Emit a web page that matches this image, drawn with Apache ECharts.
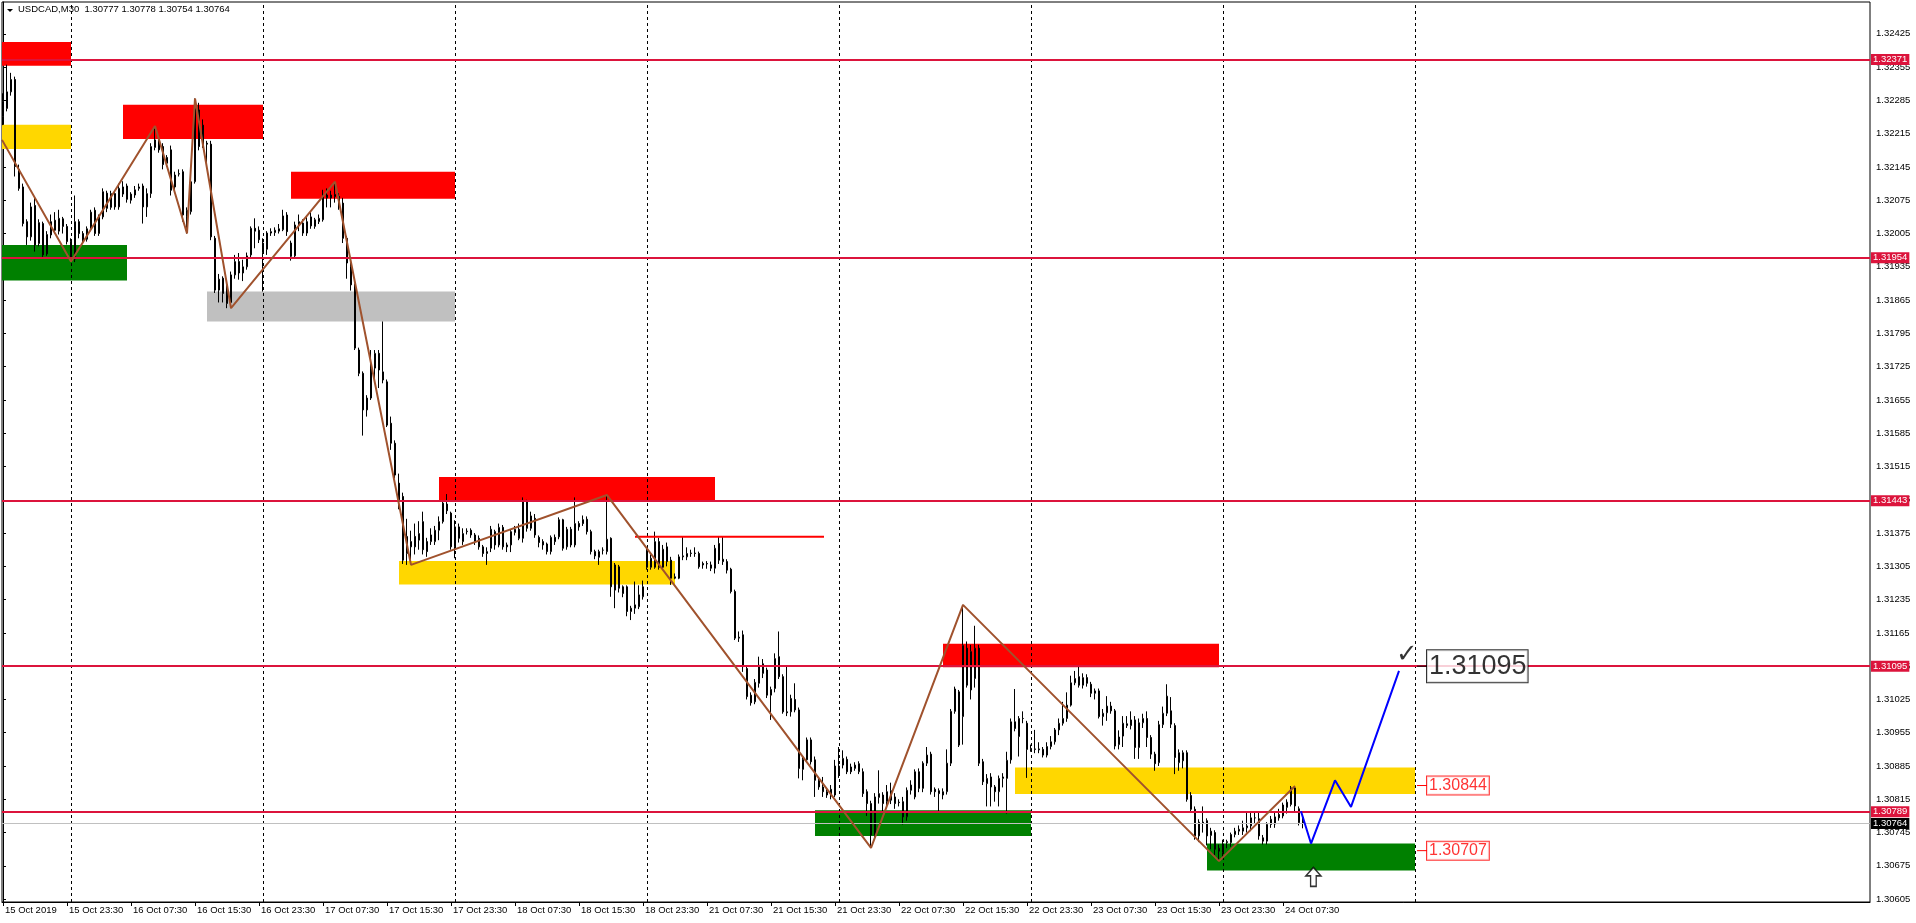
<!DOCTYPE html>
<html><head><meta charset="utf-8">
<script src="https://cdn.jsdelivr.net/npm/echarts@6/dist/echarts.min.js"></script>
<style>html,body{margin:0;padding:0;background:#fff;}#c{width:1916px;height:923px;}</style>
</head><body><div id="c"></div>
<script>
// Prices stored as points above 1.30000 (1 point = 0.00001)
const opens = [
2251,2268,2303,2329,2140,2103,2030,1998,2064,1984,
2026,1962,2002,2033,2010,2036,2020,1988,1951,2030,
2005,1993,2015,2054,2005,2040,2090,2060,2089,2061,
2088,2105,2075,2086,2100,2105,2061,2089,2186,2200,
2188,2165,2181,2128,2131,2135,2040,2051,2114,2265,
2233,2195,2193,1995,1886,1911,1897,1860,1918,1946,
1922,1935,1960,2016,2012,1985,1972,2006,2007,2010,
2013,2044,1985,1958,2023,2027,2006,2040,2020,2030,
2034,2080,2086,2087,2083,2069,1995,1936,1897,1760,
1711,1634,1659,1722,1753,1714,1693,1606,1564,1480,
1452,1332,1357,1368,1360,1399,1357,1357,1357,1381,
1399,1436,1417,1346,1388,1357,1378,1381,1371,1364,
1346,1332,1343,1378,1350,1387,1350,1350,1376,1383,
1364,1441,1385,1406,1366,1357,1352,1336,1366,1367,
1403,1346,1383,1350,1395,1403,1404,1378,1336,1324,
1339,1336,1364,1255,1304,1262,1262,1210,1217,1220,
1241,1339,1303,1303,1357,1303,1346,1318,1280,1280,
1325,1325,1332,1333,1332,1311,1310,1308,1301,1353,
1320,1315,1299,1252,1154,1161,1090,1034,1020,1059,
1100,1087,1034,1048,1115,1073,999,999,1025,1003,
878,898,940,898,855,841,831,836,824,866,
887,899,883,880,873,873,831,806,740,819,
824,810,813,820,809,810,778,834,820,873,
838,891,910,836,833,824,831,891,1000,1041,
989,1133,1045,1069,1133,894,848,862,841,831,
859,859,898,978,947,985,975,922,921,919,
920,908,926,936,961,975,985,1013,1060,1073,
1055,1071,1057,1038,1043,989,997,1011,1001,930,
948,970,970,982,924,976,985,945,910,892,
972,996,1001,970,892,896,913,823,794,738,
767,770,739,745,712,703,724,724,741,748,
748,755,759,776,774,734,727,762,763,783,
780,798,804,839,795,777];
const highs = [
2300,2360,2343,2335,2150,2110,2035,2070,2082,2035,
2030,2010,2045,2050,2055,2040,2025,1995,2085,2035,
2010,2020,2055,2060,2045,2100,2095,2095,2095,2110,
2115,2110,2092,2105,2110,2110,2100,2195,2231,2210,
2195,2170,2190,2135,2140,2140,2060,2120,2289,2280,
2245,2200,2200,2000,1920,1915,1900,1925,1960,1964,
1950,1965,2020,2037,2020,1995,2010,2016,2018,2025,
2055,2050,1990,2030,2045,2035,2040,2050,2038,2045,
2097,2100,2095,2114,2090,2080,2000,1945,1900,1765,
1715,1665,1760,1760,1760,1820,1698,1620,1570,1500,
1460,1405,1380,1395,1400,1420,1365,1385,1390,1410,
1443,1457,1420,1402,1395,1385,1385,1385,1375,1370,
1350,1345,1390,1382,1395,1392,1355,1382,1390,1395,
1450,1445,1420,1415,1370,1362,1355,1370,1372,1408,
1405,1388,1388,1450,1400,1412,1410,1382,1340,1340,
1345,1455,1366,1312,1308,1265,1265,1222,1273,1265,
1275,1345,1330,1378,1365,1350,1355,1325,1290,1330,
1367,1345,1340,1345,1336,1315,1316,1315,1350,1367,
1367,1320,1302,1256,1168,1170,1095,1040,1068,1115,
1110,1092,1052,1122,1168,1078,1094,1035,1059,1008,
905,945,945,905,860,862,838,845,898,925,
918,905,890,893,895,880,836,812,828,876,
830,845,850,828,815,820,840,855,878,880,
895,925,915,840,838,838,920,1005,1052,1045,
1224,1147,1140,1180,1140,900,868,870,845,865,
870,915,985,1047,990,1000,980,930,961,935,
925,935,948,965,985,1020,1040,1075,1085,1094,
1080,1078,1062,1048,1048,1005,1032,1020,1005,960,
990,990,1000,990,985,995,1000,950,915,980,
1010,1057,1030,975,920,918,918,830,800,773,
800,775,755,750,720,730,730,745,755,760,
770,790,790,790,790,740,767,780,790,795,
808,815,843,843,800,778];
const lows = [
2233,2262,2295,2125,2095,2020,1981,1990,1967,1978,
1955,1958,1995,2005,2003,2005,1982,1946,1945,1995,
1985,1988,2010,2000,2000,2035,2050,2055,2055,2055,
2082,2070,2068,2080,2095,2026,2040,2080,2180,2175,
2140,2145,2085,2095,2125,2030,2005,2045,2110,2180,
2185,2150,1991,1880,1860,1860,1848,1848,1910,1908,
1905,1929,1955,1974,1985,1883,1960,2000,2000,2005,
2010,2000,1948,1955,2010,2000,2000,2015,2015,2025,
2030,2060,2060,2070,2055,1985,1910,1885,1760,1705,
1580,1620,1655,1700,1680,1690,1598,1550,1490,1425,
1310,1308,1308,1330,1340,1330,1325,1350,1350,1360,
1395,1415,1340,1322,1355,1350,1372,1365,1350,1340,
1325,1308,1335,1340,1345,1340,1335,1335,1370,1360,
1355,1378,1380,1365,1345,1340,1330,1330,1350,1362,
1338,1340,1345,1345,1380,1390,1372,1330,1320,1308,
1330,1330,1241,1217,1250,1240,1200,1192,1205,1215,
1235,1298,1298,1300,1298,1300,1305,1266,1278,1278,
1318,1318,1325,1325,1300,1300,1300,1295,1290,1310,
1308,1290,1248,1150,1146,1083,1025,1012,1015,1050,
1070,1028,982,1040,1068,995,990,989,998,859,
855,893,888,820,835,820,818,815,820,860,
880,868,868,875,868,820,780,713,735,806,
790,800,805,795,800,762,770,825,815,830,
830,885,825,820,790,815,825,885,995,925,
930,1050,1025,1050,885,845,800,800,810,800,
840,785,890,958,905,975,860,915,912,912,
903,903,920,930,950,970,978,1010,1055,1050,
1048,1052,1030,1025,985,970,980,995,920,920,
925,965,962,900,900,965,925,900,875,885,
965,990,965,868,875,880,810,790,730,725,
745,718,710,698,685,690,712,715,735,740,
740,745,748,765,730,720,720,755,755,770,
775,785,800,790,760,754];
const closes = [
2282,2303,2329,2146,2100,2026,1998,2061,1981,2028,
1960,2003,2030,2012,2037,2020,1988,1951,2030,2005,
1990,2015,2050,2005,2040,2093,2058,2089,2061,2100,
2103,2077,2088,2097,2103,2061,2089,2188,2202,2181,
2150,2153,2096,2103,2130,2044,2054,2114,2268,2188,
2191,2193,1998,1886,1909,1879,1858,1918,1946,1922,
1935,1958,2016,2010,1992,1965,2006,2009,2012,2015,
2042,2009,1957,2023,2030,2006,2030,2021,2034,2037,
2086,2086,2080,2083,2065,1995,1943,1897,1764,1711,
1634,1659,1722,1753,1718,1697,1602,1564,1497,1445,
1318,1368,1346,1346,1374,1340,1336,1371,1381,1399,
1438,1422,1346,1388,1364,1374,1379,1371,1357,1346,
1332,1336,1383,1350,1387,1346,1346,1378,1383,1364,
1441,1385,1411,1371,1355,1350,1336,1366,1357,1403,
1343,1383,1350,1395,1388,1395,1378,1336,1327,1336,
1339,1362,1262,1308,1259,1248,1210,1217,1224,1245,
1262,1303,1322,1357,1303,1341,1315,1280,1283,1325,
1327,1332,1333,1332,1304,1308,1311,1301,1343,1318,
1315,1297,1252,1154,1156,1094,1031,1018,1061,1097,
1080,1034,1046,1111,1073,999,997,1027,1003,880,
899,940,894,855,841,831,824,822,885,885,
901,873,873,887,890,827,806,740,820,827,
806,831,833,806,808,778,834,845,873,838,
891,908,831,831,827,831,891,1000,1047,929,
1139,1055,1126,1133,891,852,859,841,831,859,
862,897,978,964,985,985,920,920,920,921,
908,926,936,961,975,985,1013,1060,1069,1055,
1071,1059,1038,1043,989,996,1011,1001,927,946,
975,974,982,924,976,985,945,910,890,972,
996,1032,973,903,913,913,815,794,738,767,
764,738,748,710,706,721,726,741,748,752,
755,759,776,776,738,727,762,773,778,776,
803,809,839,801,766,764];

const timeTickBars = [0,16,32,48,64,80,96,112,128,144,160,176,192,208,224,240,256,272,288,304,320];
const timeLabels = ['15 Oct 2019','15 Oct 23:30','16 Oct 07:30','16 Oct 15:30','16 Oct 23:30','17 Oct 07:30','17 Oct 15:30','17 Oct 23:30','18 Oct 07:30','18 Oct 15:30','18 Oct 23:30','21 Oct 07:30','21 Oct 15:30','21 Oct 23:30','22 Oct 07:30','22 Oct 15:30','22 Oct 23:30','23 Oct 07:30','23 Oct 15:30','23 Oct 23:30','24 Oct 07:30'];
const priceTicks = [1.30605,1.30675,1.30745,1.30815,1.30885,1.30955,1.31025,1.31095,1.31165,1.31235,1.31305,1.31375,1.31445,1.31515,1.31585,1.31655,1.31725,1.31795,1.31865,1.31935,1.32005,1.32075,1.32145,1.32215,1.32285,1.32355,1.32425];
const daySeparators = [17,65,113,161,209,257,305,353];
const levels = [1.32371,1.31954,1.31443,1.31095,1.30789];
const currentPrice = 1.30764;
const header = ['USDCAD,M30','1.30777','1.30778','1.30754','1.30764'];

// zones: [fromBar, toBar, lowPrice, highPrice, kind]
const zones = [
  [-0.25, 17, 1.32358, 1.32408, 'red'],
  [-0.25, 17, 1.32183, 1.32234, 'yellow'],
  [-0.25, 31, 1.31906, 1.31981, 'green'],
  [30, 65, 1.32204, 1.32276, 'red'],
  [72, 113, 1.32078, 1.32135, 'red'],
  [51, 113, 1.31820, 1.31883, 'gray'],
  [109, 178, 1.31443, 1.31493, 'red'],
  [99, 168, 1.31267, 1.31316, 'yellow'],
  [235, 304, 1.31093, 1.31142, 'red'],
  [253, 353, 1.30826, 1.30882, 'yellow'],
  [203, 257, 1.30738, 1.30792, 'green'],
  [301, 353, 1.30665, 1.30722, 'green']
];
const zigzag = [[-0.25,2202],[17,1946],[38,2231],[46,2005],[48,2289],[57,1848],[83,2114],[102,1308],[151,1455],[217,713],[240,1224],[304,685],[323,843]];
const projection = [[324.5,790],[327,722],[333,855],[337,799],[349,1085]];
const shortResistance = [[158,1367],[205.25,1367]];
const priceTags = [[353.5,1.31095,'big'],[353.5,1.30844,'small'],[353.5,1.30707,'small']];
const checkMark = [351, 1118];
const upArrow = [327.6, 652];

const P = v => +(1.3 + v / 100000).toFixed(5);
const FONT = 'Liberation Sans';
const zoneColor = {red:'#FF0000', yellow:'#FFD700', green:'#008000', gray:'#C0C0C0'};
const candleData = opens.map((o, i) => [i, P(o), P(closes[i]), P(lows[i]), P(highs[i])]);

const levelLines = levels.map(v => ({
  yAxis: v,
  lineStyle: {color:'#DC143C', width:2, type:'solid'},
  label: {show:true, position:'end', distance:1, formatter: v.toFixed(5), backgroundColor:'#DC143C', color:'#fff', padding:[1,2,0,2], fontFamily:FONT, fontSize:9.5}
}));
levelLines.unshift({
  yAxis: currentPrice,
  lineStyle: {color:'#C0C0C0', width:1, type:'solid'},
  label: {show:true, position:'end', distance:1, formatter: currentPrice.toFixed(5), backgroundColor:'#000', color:'#fff', padding:[1,2,0,2], fontFamily:FONT, fontSize:9.5}
});

const series = [
  { type:'line', data:[], z:1, silent:true,
    markArea: { silent:true, precision:5, data: zones.map(z => [
      {xAxis:z[0], yAxis:z[2], itemStyle:{color:zoneColor[z[4]], opacity:1}},
      {xAxis:z[1], yAxis:z[3]}
    ]) } },
  { type:'line', data:[], z:2, silent:true,
    markLine: { silent:true, precision:5, symbol:['none','none'], label:{show:false},
      lineStyle:{color:'#000', width:1, type:[3,3]},
      data: daySeparators.map(b => ({xAxis:b})) } },
  { type:'candlestick', data:candleData, z:3, silent:true,
    dimensions:['bar','open','close','lowest','highest'],
    encode:{x:'bar', y:['open','close','lowest','highest']},
    barWidth:2,
    itemStyle:{color:'#fff', color0:'#000', borderColor:'#000', borderColor0:'#000', borderWidth:1} },
  { type:'line', data:[], z:4, silent:true,
    markLine: { silent:true, precision:5, symbol:['none','none'], data: levelLines } },
  { type:'line', data: shortResistance.map(p => [p[0], P(p[1])]), z:5, silent:true, symbol:'none',
    lineStyle:{color:'#FF0000', width:2} },
  { type:'line', data: zigzag.map(p => [p[0], P(p[1])]), z:6, silent:true, symbol:'none',
    lineStyle:{color:'#A0522D', width:2} },
  { type:'line', data: projection.map(p => [p[0], P(p[1])]), z:6, silent:true, symbol:'none',
    lineStyle:{color:'#0000FF', width:2} }
];

priceTags.forEach(t => {
  const big = t[2] === 'big';
  const col = big ? '#000' : '#FF0000';
  series.push({ type:'line', data:[[t[0], t[1]], [t[0] + 2.5, t[1]]], z:7, silent:true, symbol:'none',
    lineStyle:{color:col, width:1} });
  series.push({ type:'scatter', data:[[t[0] + 2.5, t[1]]], z:8, silent:true, symbolSize:0,
    label:{show:true, position:'right', distance:0, formatter: t[1].toFixed(5),
      color:col, borderColor:col, borderWidth:1, backgroundColor:'#fff',
      fontFamily:FONT, fontSize: big ? 27 : 16, lineHeight: big ? 30 : 16,
      padding: big ? [1,1,1,2] : [1,2,1,2]} });
});
series.push({ type:'scatter', data:[[checkMark[0], P(checkMark[1])]], z:8, silent:true, symbolSize:0,
  label:{show:true, position:'inside', formatter:'\u2713', color:'#000', fontSize:26, fontFamily:'DejaVu Sans'} });
series.push({ type:'scatter', data:[[upArrow[0], P(upArrow[1])]], z:8, silent:true,
  symbol:'path://M8,0 L16,9 L11,9 L11,20 L5,20 L5,9 L0,9 Z', symbolSize:[15,19],
  itemStyle:{color:'#fff', borderColor:'#000', borderWidth:1.5} });

const option = {
  animation:false,
  backgroundColor:'#fff',
  grid:{left:2, right:46, top:2, bottom:21, show:true, borderColor:'#000', borderWidth:1},
  xAxis:{ type:'value', min:-0.25, max:466.75,
    axisLine:{show:true, lineStyle:{color:'#000', width:1}},
    axisTick:{show:true, length:4, lineStyle:{color:'#000'}, customValues: timeTickBars},
    axisLabel:{show:true, customValues: timeTickBars, formatter: v => timeLabels[timeTickBars.indexOf(v)],
      align:'left', color:'#000', fontFamily:FONT, fontSize:9.5, margin:3, padding:[0,0,0,2]},
    splitLine:{show:false} },
  yAxis:{ type:'value', position:'right', min:1.30599, max:1.32492,
    axisLine:{show:true, lineStyle:{color:'#000', width:1}},
    axisTick:{show:true, length:3, lineStyle:{color:'#000'}, customValues: priceTicks},
    axisLabel:{show:true, customValues: priceTicks, formatter: v => v.toFixed(5),
      color:'#000', fontFamily:FONT, fontSize:9.5, margin:6},
    splitLine:{show:false} },
  graphic:[
    {type:'polygon', shape:{points:[[7,9],[13,9],[10,12]]}, style:{fill:'#000'}},
    {type:'text', left:18, top:4, style:{text: header[0] + '  ' + header.slice(1).join(' '), fill:'#000', font:'9.5px "Liberation Sans"'}}
  ],
  series: series
};
const chart = echarts.init(document.getElementById('c'));
chart.setOption(option);
</script>
</body></html>
